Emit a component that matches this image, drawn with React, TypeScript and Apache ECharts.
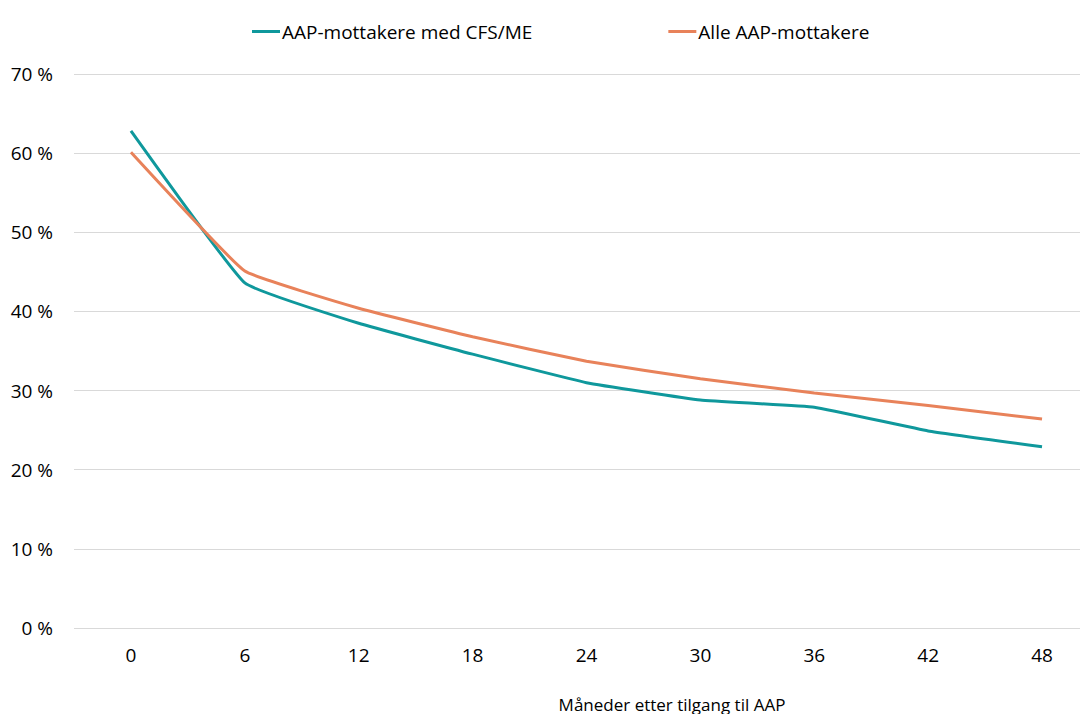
import React, { useEffect, useRef } from "react";
import * as echarts from "echarts";

const months = [0, 6, 12, 18, 24, 30, 36, 42, 48];
const cfsMe = [62.8, 43.6, 38.5, 34.6, 31.0, 28.8, 27.9, 24.9, 22.9];
const alleAap = [60.1, 45.1, 40.4, 36.8, 33.7, 31.5, 29.7, 28.1, 26.4];
const seriesNames = ["AAP-mottakere med CFS/ME", "Alle AAP-mottakere"];
const xTitle = "Måneder etter tilgang til AAP";

const FONT = "'Open Sans', 'Noto Sans', sans-serif";

export default function App() {
  const ref = useRef<HTMLDivElement>(null);
  useEffect(() => {
    const chart = echarts.init(ref.current!, null, { renderer: "svg" });
    chart.setOption({
      animation: false,
      textStyle: { fontFamily: FONT },
      legend: {
        top: 17,
        left: 247,
        itemWidth: 28,
        itemHeight: 3,
        itemGap: 136,
        icon: "rect",
        textStyle: { fontSize: 19, color: "#000", fontFamily: FONT, padding: [0, 0, 0, -3] },
        data: seriesNames,
      },
      grid: [
        { left: 74, right: 11, top: 74, bottom: 86 },
        { left: 74, right: 0, top: 74, bottom: 86 },
      ],
      xAxis: [
        {
          gridIndex: 0,
          type: "value",
          min: 0,
          max: 1,
          show: false,
        },
        {
          gridIndex: 1,
          type: "value",
          min: -3,
          max: 50.58,
          splitLine: { show: false },
          axisLine: { show: false },
          axisTick: { show: false },
          axisLabel: {
            color: "#000",
            fontSize: 19,
            margin: 17,
            fontFamily: FONT,
            customValues: months,
            showMinLabel: true,
            showMaxLabel: true,
          },
        },
      ],
      yAxis: [
        {
          gridIndex: 0,
          type: "value",
          min: 0,
          max: 70,
          interval: 10,
          axisLine: { show: false },
          axisTick: { show: false },
          splitLine: { lineStyle: { color: "#d9d9d9", width: 1 } },
          axisLabel: { color: "#000", fontSize: 19, margin: 21, formatter: "{value} %", fontFamily: FONT },
        },
        {
          gridIndex: 1,
          type: "value",
          min: 0,
          max: 70,
          interval: 10,
          show: false,
          splitLine: { show: false },
        },
      ],
      series: [
        {
          name: seriesNames[0],
          type: "line",
          xAxisIndex: 1,
          yAxisIndex: 1,
          data: months.map((m, i) => [m, cfsMe[i]]),
          smooth: 0.1,
          symbol: "none",
          lineStyle: { color: "#0F989C", width: 3 },
          itemStyle: { color: "#0F989C" },
        },
        {
          name: seriesNames[1],
          type: "line",
          xAxisIndex: 1,
          yAxisIndex: 1,
          data: months.map((m, i) => [m, alleAap[i]]),
          smooth: 0.1,
          symbol: "none",
          lineStyle: { color: "#E8825A", width: 3 },
          itemStyle: { color: "#E8825A" },
        },
      ],
      graphic: [
        {
          type: "text",
          x: 672,
          y: 696,
          style: { text: xTitle, fontSize: 17, fill: "#000", fontFamily: FONT, align: "center", verticalAlign: "top" },
        },
      ],
    });
    return () => chart.dispose();
  }, []);
  return <div ref={ref} style={{ position: "absolute", left: 0, top: 0, width: 1091, height: 714 }} />;
}
